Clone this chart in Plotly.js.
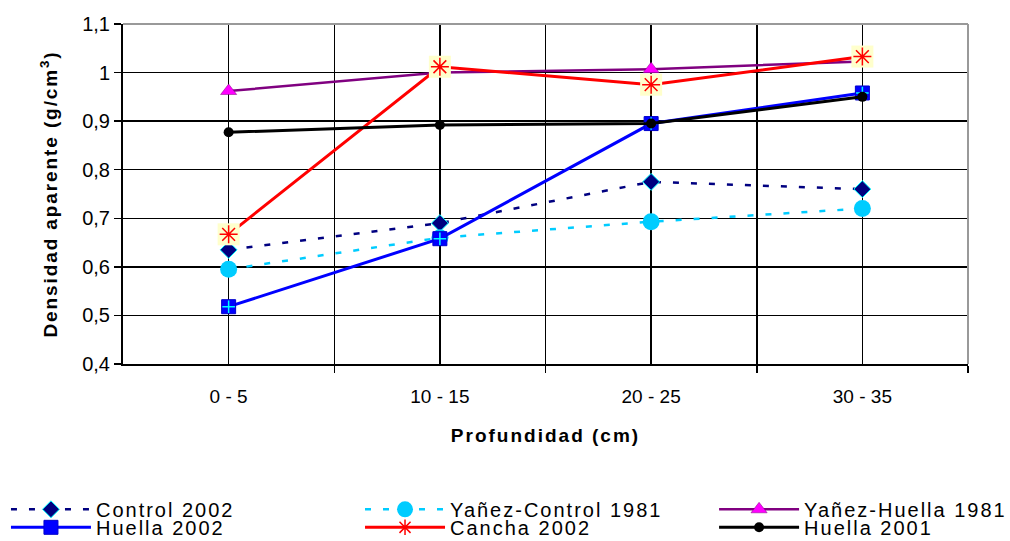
<!DOCTYPE html>
<html>
<head>
<meta charset="utf-8">
<script src="https://cdn.plot.ly/plotly-3.0.1.min.js"></script>
<style>
html,body{margin:0;padding:0;background:#fff;}
#chart{width:1010px;height:541px;}
#chart .ytitle{letter-spacing:1.9px;}
#chart .xtitle{letter-spacing:2px;}
</style>
</head>
<body>
<div id="chart"></div>
<script>
const categories = ["0 - 5", "10 - 15", "20 - 25", "30 - 35"];
const catIndex = [0, 1, 2, 3];
const seriesNames = ["Control 2002", "Yañez-Control 1981", "Yañez-Huella 1981", "Huella 2002", "Cancha 2002", "Huella 2001"];
const control2002 = [0.635, 0.69, 0.775, 0.76];
const yanezControl1981 = [0.595, 0.66, 0.693, 0.72];
const yanezHuella1981 = [0.962, 1.0, 1.007, 1.023];
const huella2002 = [0.518, 0.658, 0.895, 0.958];
const cancha2002 = [0.667, 1.012, 0.975, 1.033];
const huella2001 = [0.877, 0.892, 0.895, 0.95];
const yTicks = [0.4, 0.5, 0.6, 0.7, 0.8, 0.9, 1.0, 1.1];

const font = "Liberation Sans, Arial, sans-serif";
const spaced = s => '<span style="letter-spacing:2px">' + s + '</span>';

const traces = [
  {x: catIndex, y: control2002, name: spaced(seriesNames[0]), mode: "lines+markers", legend: "legend",
   line: {color: "#000080", width: 2.5, dash: "6px,12px"},
   marker: {symbol: "diamond", size: 13, color: "#000080", line: {color: "#00FFFF", width: 1}}},
  {x: catIndex, y: yanezControl1981, name: spaced(seriesNames[1]), mode: "lines+markers", legend: "legend2",
   line: {color: "#00CCFF", width: 2.5, dash: "6px,12px"},
   marker: {symbol: "circle", size: 17, color: "#00CCFF"}},
  {x: catIndex, y: yanezHuella1981, name: spaced(seriesNames[2]), mode: "lines+markers", legend: "legend3",
   line: {color: "#800080", width: 2.5},
   marker: {symbol: "triangle-up", size: 14, color: "#FF00FF", line: {color: "#800080", width: 0.5}}},
  {x: catIndex, y: huella2002, name: spaced(seriesNames[3]), mode: "lines+markers", legend: "legend4",
   line: {color: "#0000FF", width: 3},
   marker: {symbol: "square", size: 14, color: "#0000FF", line: {color: "#0000CC", width: 1}}},
  {x: catIndex, y: huella2002, name: seriesNames[3], mode: "markers", showlegend: false, hoverinfo: "skip",
   marker: {symbol: "cross-thin-open", size: 9, color: "#00FFFF", line: {color: "#00FFFF", width: 1.5}}},
  {x: catIndex, y: cancha2002, name: spaced(seriesNames[4]), mode: "lines+markers", legend: "legend5",
   line: {color: "#FF0000", width: 3},
   marker: {symbol: "asterisk-open", size: 13, color: "#FF0000", line: {color: "#FF0000", width: 1.5}}},
  {x: catIndex, y: cancha2002, name: seriesNames[4], mode: "markers", showlegend: false, hoverinfo: "skip",
   marker: {symbol: "square", size: 22, color: "#FFFFCC"}},
  {x: catIndex, y: cancha2002, name: seriesNames[4], mode: "markers", showlegend: false, hoverinfo: "skip",
   marker: {symbol: "asterisk-open", size: 15, color: "#FF0000", line: {color: "#FF0000", width: 1.5}}},
  {x: catIndex, y: huella2001, name: spaced(seriesNames[5]), mode: "lines+markers", legend: "legend6",
   line: {color: "#000000", width: 3},
   marker: {symbol: "circle", size: 10, color: "#000000"}}
];

function legendAt(x, y) {
  return {
    orientation: "v", x: x, xanchor: "left", y: y, yanchor: "top",
    itemwidth: 80,
    font: {family: font, size: 20, color: "#000"},
    bgcolor: "rgba(0,0,0,0)", borderwidth: 0
  };
}
const colX = [-0.1385, 0.2805, 0.6995];
const rowY = [-0.37, -0.423];

const layout = {
  width: 1010, height: 541,
  margin: {l: 123, r: 42, t: 24, b: 177, autoexpand: false},
  paper_bgcolor: "#ffffff", plot_bgcolor: "#ffffff",
  separators: ",.",
  font: {family: font, size: 20, color: "#000"},
  showlegend: true,
  xaxis: {
    range: [-0.5, 3.5], tickvals: catIndex, ticktext: categories,
    showgrid: true, gridcolor: "#000", gridwidth: 1.5,
    ticks: "", showline: true, linecolor: "#000", linewidth: 2,
    zeroline: false, ticklabelstandoff: 14,
    tickfont: {family: font, size: 19, color: "#000"},
    minor: {tickvals: [0.5, 1.5, 2.5, 3.5], showgrid: true, gridcolor: "#000", gridwidth: 1.5,
            ticks: "outside", ticklen: 7, tickcolor: "#000", tickwidth: 1.5},
    title: {text: "<b>Profundidad (cm)</b>", font: {family: font, size: 19, color: "#000"}, standoff: 23}
  },
  yaxis: {
    range: [0.4, 1.1], tickvals: yTicks,
    showgrid: true, gridcolor: "#000", gridwidth: 1.5,
    ticks: "outside", ticklen: 7, tickcolor: "#000", tickwidth: 1.5,
    showline: true, linecolor: "#000", linewidth: 2, zeroline: false,
    ticklabelstandoff: 0,
    tickfont: {family: font, size: 20, color: "#000"},
    title: {text: "<b>Densidad aparente (g/cm<sup>3</sup>)</b>", font: {family: font, size: 19, color: "#000"}, standoff: 20}
  },
  shapes: [
    {type: "line", xref: "paper", yref: "paper", x0: 1, x1: 1, y0: 0, y1: 1, line: {color: "#999", width: 2}},
    {type: "line", xref: "paper", yref: "paper", x0: 0, x1: 1, y0: 1, y1: 1, line: {color: "#999", width: 2}}
  ],
  legend: legendAt(colX[0], rowY[0]),
  legend2: legendAt(colX[1], rowY[0]),
  legend3: legendAt(colX[2], rowY[0]),
  legend4: legendAt(colX[0], rowY[1]),
  legend5: legendAt(colX[1], rowY[1]),
  legend6: legendAt(colX[2], rowY[1])
};

Plotly.newPlot("chart", traces, layout, {displayModeBar: false, staticPlot: true});
</script>
</body>
</html>
